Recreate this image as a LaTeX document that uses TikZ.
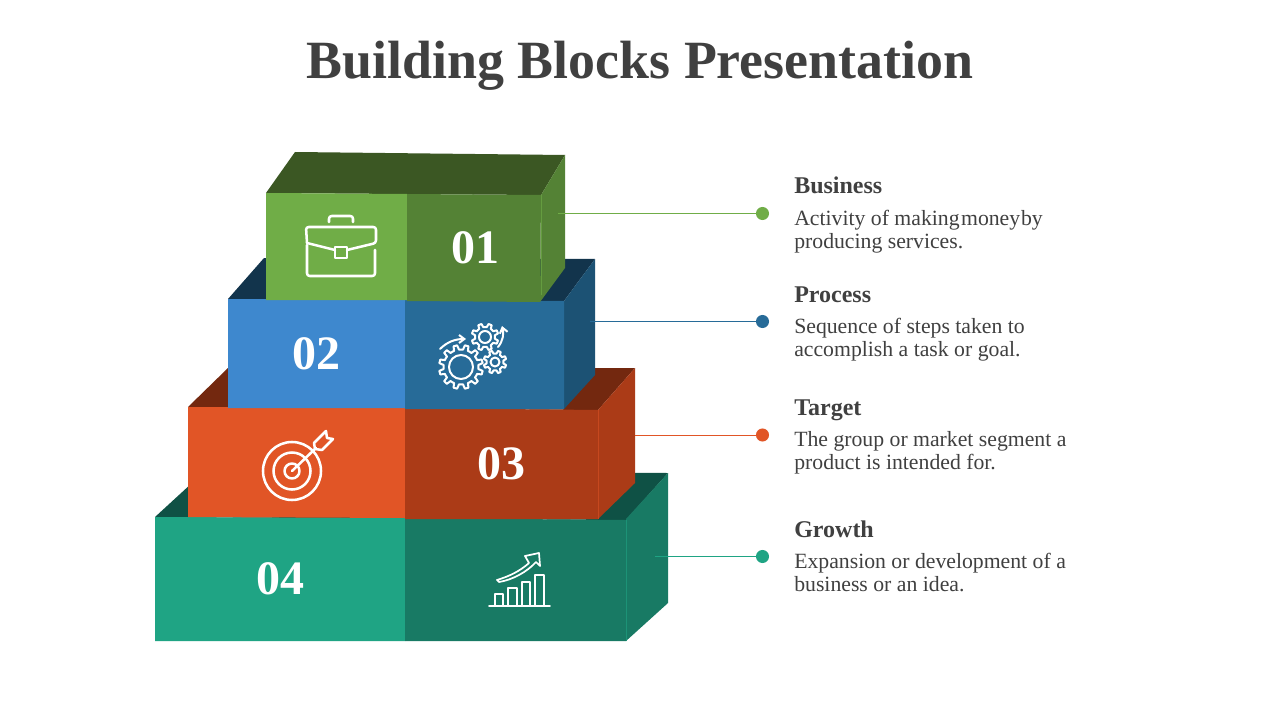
\documentclass[tikz,border=0pt]{standalone}
\usepackage{fontspec}
\setmainfont{Liberation Serif}
\usepackage{xcolor}
\usetikzlibrary{positioning, arrows.meta}

\definecolor{inkgray}{HTML}{404040}
\definecolor{greenfront}{HTML}{70AD47}
\definecolor{greenside}{HTML}{548235}
\definecolor{greentop}{HTML}{3B5723}
\definecolor{bluefront}{HTML}{3E88CE}
\definecolor{blueside}{HTML}{276B98}
\definecolor{bluedeep}{HTML}{1C5274}
\definecolor{bluetop}{HTML}{12344C}
\definecolor{redfront}{HTML}{E15526}
\definecolor{redside}{HTML}{AB3B17}
\definecolor{redtop}{HTML}{73280F}
\definecolor{tealfront}{HTML}{1FA484}
\definecolor{tealside}{HTML}{187A64}
\definecolor{tealtop}{HTML}{0F5145}

\newcommand{\geartrace}[4]{% centre, outer radius, inner radius, teeth
\draw[gearline, shift={(#1)}] (0:#3)
\foreach \t [evaluate=\t as \a using \t*360/#4] in {1,...,#4} {
-- (\a-360/#4+360/#4*0.22:#3) -- (\a-360/#4+360/#4*0.34:#2) -- (\a-360/#4+360/#4*0.66:#2) -- (\a-360/#4+360/#4*0.78:#3) -- (\a:#3)
} -- cycle;
}

\begin{document}
\begin{tikzpicture}[x=0.75pt, y=-0.75pt, iconline/.style={draw=white, line width=1.9pt, line join=round, line cap=round}, gearline/.style={draw=white, line width=1.5pt, line join=round, line cap=round}, thinline/.style={draw=white, line width=1.3pt, line join=round, line cap=round}, dot/.style={circle, inner sep=0pt, minimum size=9.8pt}, number/.style={text=white, font=\fontsize{36}{38}\selectfont\bfseries}, heading/.style={anchor=base west, inner sep=0pt, text=inkgray, font=\fontsize{18}{20}\selectfont\bfseries}, blurb/.style={anchor=base west, inner sep=0pt, text=inkgray, align=left, font=\fontsize{16.3}{17.25}\selectfont}]
\useasboundingbox (0,0) rectangle (1280,720);
\fill[white] (0,0) rectangle (1280,720);

\node[anchor=base, text=inkgray, font=\fontsize{40.4}{42}\selectfont\bfseries] (title) at (640,79) {Building Blocks Presentation};

% block 04
\fill[tealtop] (155,517) -- (204,472) -- (668,473) -- (626,520) -- cycle;
\fill[tealside] (626,519) -- (668,473) -- (668,603) -- (626,641) -- cycle;
\fill[tealfront] (155,517) -- (405,518) -- (405,641) -- (155,641) -- cycle;
\fill[tealside] (405,518) -- (626,520) -- (626,641) -- (405,641) -- cycle;
\draw[tealfront!60!tealside, line width=0.5pt] (626,520) -- (626,641);

% block 03
\fill[redtop] (188,407) -- (228,368) -- (635,368) -- (598,410) -- cycle;
\fill[redside] (598,410) -- (635,368) -- (635,483) -- (598,519) -- cycle;
\fill[redfront] (188,407) -- (405,408) -- (405,518) -- (188,517) -- cycle;
\fill[redside] (405,408) -- (598,410) -- (598,519) -- (405,519) -- cycle;
\draw[redfront!50!redside, line width=0.5pt] (598,410) -- (598,519);

% block 02
\fill[bluetop] (228,299) -- (264,258) -- (595,259) -- (564,301) -- cycle;
\fill[bluedeep] (564,301) -- (595,259) -- (595,375) -- (564,409) -- cycle;
\fill[bluefront] (228,299) -- (405,300) -- (405,408) -- (228,408) -- cycle;
\fill[blueside] (405,300) -- (564,301) -- (564,409) -- (405,409) -- cycle;

% block 01
\fill[greentop] (266,193) -- (295,152) -- (565,155) -- (541,195) -- cycle;
\fill[greenside] (541,195) -- (565,155) -- (565,268) -- (540,302) -- cycle;
\fill[greenfront] (266,193) -- (407,194) -- (407,300) -- (266,300) -- cycle;
\fill[greenside] (407,194) -- (541,195) -- (540,302) -- (407,301) -- cycle;
\draw[greenfront!60!greenside, line width=0.5pt] (541,195) -- (541,295);

\node[number] (n1) at (475,248) {01};
\node[number] (n2) at (316,354) {02};
\node[number] (n3) at (501,464) {03};
\node[number] (n4) at (280,579) {04};

% briefcase
\draw[iconline, rounded corners=2pt] (307,243) -- (306,227) -- (376,227) -- (376,243) -- (347,250);
\draw[iconline] (335,250) -- (307,243);
\draw[iconline] (335,247) rectangle (347,258);
\draw[iconline, rounded corners=2pt] (307,245) -- (307,276) -- (375,276) -- (375,250);
\draw[iconline, rounded corners=2pt] (329,222) -- (329,216) -- (353,216) -- (353,222);

% gears
\geartrace{461,367}{22}{17.5}{12}
\draw[gearline] (461,367) circle (12);
\geartrace{485,337}{13.5}{10}{8}
\draw[gearline] (485,337) circle (6);
\geartrace{495,362}{11.5}{8.5}{8}
\draw[gearline] (495,362) circle (4.5);
\draw[gearline, -{Straight Barb[length=4pt, width=6pt]}] (440,349) .. controls (447,342) and (455,339) .. (466,339);
\draw[gearline, -{Straight Barb[length=4pt, width=6pt]}] (498,347) .. controls (503,341) and (504,334) .. (502,326);

% target
\draw[iconline] (292,471) circle (29);
\draw[iconline] (292,471) circle (18.5);
\draw[iconline] (292,471) circle (7.5);
\draw[iconline] (292,471) -- (316,448);
\draw[iconline] (314,443) -- (326,431) -- (327,438) -- (333,439) -- (322,450) -- (315,449) -- cycle;

% chart
\draw[thinline] (489,606) -- (550,606);
\draw[thinline] (495,606) -- (495,594) -- (503,594) -- (503,606);
\draw[thinline] (508,606) -- (508,588) -- (517,588) -- (517,606);
\draw[thinline] (522,606) -- (522,582) -- (530,582) -- (530,606);
\draw[thinline] (535,606) -- (535,575) -- (544,575) -- (544,606);
\draw[thinline] (497,580) .. controls (510,576) and (520,571) .. (529,563) -- (525,556) -- (539,553) -- (540,566) -- (536,562) .. controls (527,572) and (512,580) .. (499,582) -- cycle;

% connectors
\coordinate (c1) at (558,213.5);
\coordinate (c2) at (590,321.5);
\coordinate (c3) at (635,435);
\coordinate (c4) at (655,556.5);
\node[dot, fill=greenfront] (d1) at (762.5,213.5) {};
\node[dot, fill=blueside] (d2) at (762.5,321.5) {};
\node[dot, fill=redfront] (d3) at (762.5,435) {};
\node[dot, fill=tealfront] (d4) at (762.5,556.5) {};
\draw[greenfront, line width=0.75pt] (c1) -- (d1);
\draw[blueside, line width=0.75pt] (c2) -- (d2);
\draw[redfront, line width=0.75pt] (c3) -- (d3);
\draw[tealfront, line width=0.75pt] (c4) -- (d4);

% labels
\node[heading] (h1) at (794,193.5) {Business};
\node[blurb] (t1) at (794,248) {Activity of making\kern-3pt{} money\kern-3.5pt{} by\\producing services.};
\node[heading] (h2) at (794,302) {Process};
\node[blurb] (t2) at (794,356) {Sequence of steps taken to\\accomplish a task or goal.};
\node[heading] (h3) at (794,415) {Target};
\node[blurb] (t3) at (794,469) {The group or market segment a\\product is intended for.};
\node[heading] (h4) at (794,537) {Growth};
\node[blurb] (t4) at (794,591) {Expansion or development of a\\business or an idea.};
\end{tikzpicture}
\end{document}
